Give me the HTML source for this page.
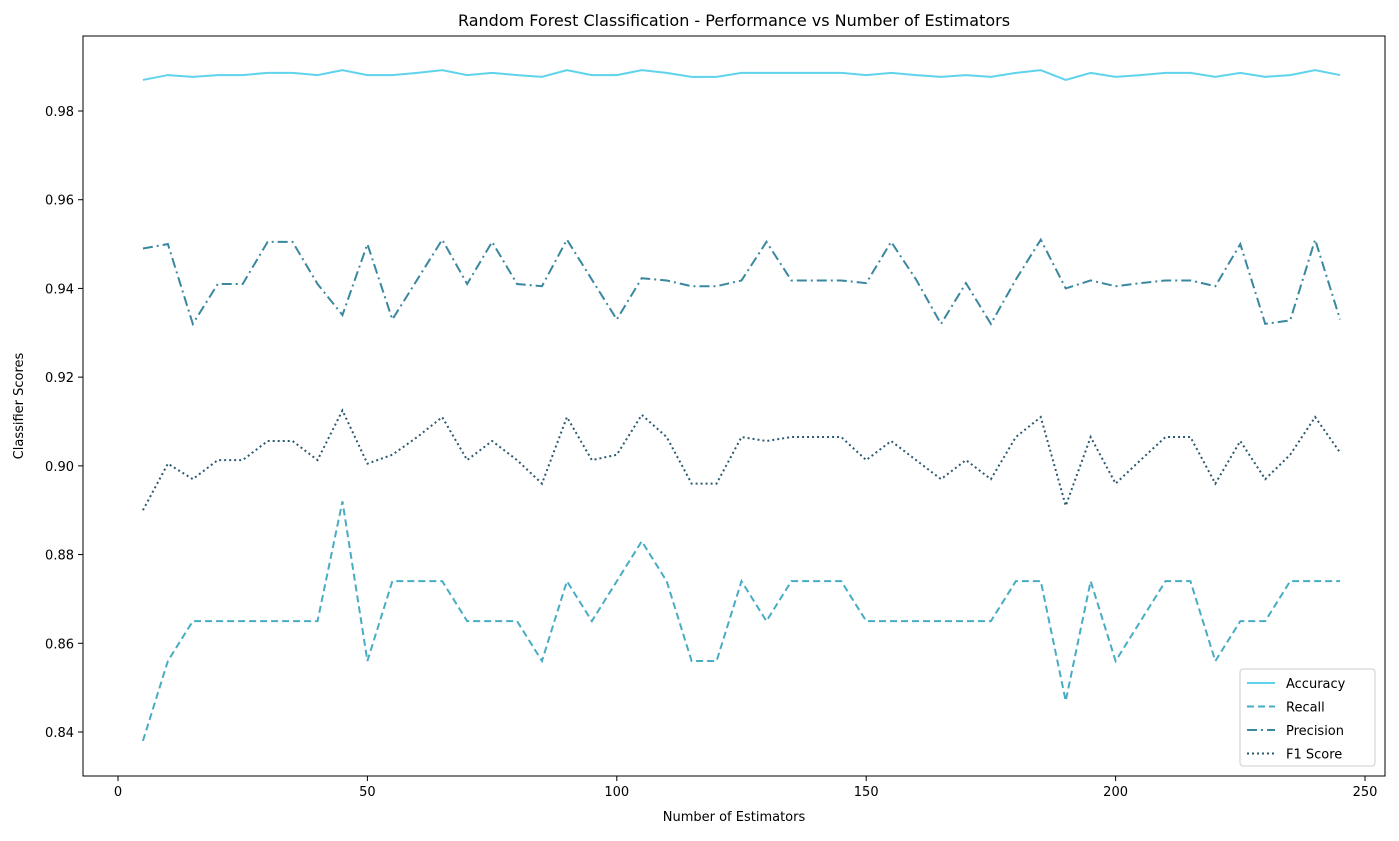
<!DOCTYPE html>
<html><head><meta charset="utf-8"><style>
body{margin:0;background:#fff;font-family:"Liberation Sans","DejaVu Sans",sans-serif}
svg text{font-family:"DejaVu Sans","Liberation Sans",sans-serif;fill:#000}
</style></head><body>
<svg id="chart" width="1399" height="836" xmlns="http://www.w3.org/2000/svg">
<rect width="1399" height="836" fill="#fff"/>
<text x="734" y="26" font-size="16" text-anchor="middle">Random Forest Classification - Performance vs Number of Estimators</text>
<g id="grid"></g>
<g id="series"></g>
<rect x="83" y="36" width="1302" height="740" fill="none" stroke="#000" stroke-width="1"/>
<text x="734" y="821" font-size="13" text-anchor="middle">Number of Estimators</text>
<text transform="translate(23,406) rotate(-90)" font-size="13" text-anchor="middle">Classifier Scores</text>
<g id="legend">
<rect x="1240" y="669" width="135" height="97" rx="3" fill="#fff" stroke="#ccc"/>
</g>
</svg>
<script>
const estimators=[5,10,15,20,25,30,35,40,45,50,55,60,65,70,75,80,85,90,95,100,105,110,115,120,125,130,135,140,145,150,155,160,165,170,175,180,185,190,195,200,205,210,215,220,225,230,235,240,245];
const accuracy=[0.9870,0.9881,0.9877,0.9881,0.9881,0.9886,0.9886,0.9881,0.9892,0.9881,0.9881,0.9886,0.9892,0.9881,0.9886,0.9881,0.9877,0.9892,0.9881,0.9881,0.9892,0.9886,0.9877,0.9877,0.9886,0.9886,0.9886,0.9886,0.9886,0.9881,0.9886,0.9881,0.9877,0.9881,0.9877,0.9886,0.9892,0.9870,0.9886,0.9877,0.9881,0.9886,0.9886,0.9877,0.9886,0.9877,0.9881,0.9892,0.9881];
const recall=[0.838,0.856,0.865,0.865,0.865,0.865,0.865,0.865,0.892,0.856,0.874,0.874,0.874,0.865,0.865,0.865,0.856,0.874,0.865,0.874,0.883,0.874,0.856,0.856,0.874,0.865,0.874,0.874,0.874,0.865,0.865,0.865,0.865,0.865,0.865,0.874,0.874,0.847,0.874,0.856,0.865,0.874,0.874,0.856,0.865,0.865,0.874,0.874,0.874];
const precision=[0.949,0.950,0.932,0.941,0.941,0.9505,0.9505,0.941,0.934,0.950,0.933,0.942,0.951,0.941,0.9505,0.941,0.9405,0.951,0.942,0.933,0.9423,0.9418,0.9405,0.9405,0.9418,0.9505,0.9418,0.9418,0.9418,0.9412,0.9505,0.942,0.932,0.9412,0.932,0.942,0.951,0.940,0.9418,0.9405,0.9412,0.9418,0.9418,0.9405,0.950,0.932,0.9328,0.951,0.933];
const f1=[0.890,0.9005,0.897,0.9013,0.9013,0.9056,0.9056,0.9013,0.9125,0.9005,0.9025,0.9065,0.911,0.9013,0.9056,0.9013,0.896,0.911,0.9013,0.9025,0.9115,0.9065,0.896,0.896,0.9065,0.9056,0.9065,0.9065,0.9065,0.9013,0.9056,0.9013,0.897,0.9013,0.897,0.9065,0.911,0.891,0.9065,0.896,0.9013,0.9065,0.9065,0.896,0.9056,0.897,0.9025,0.911,0.903];
const xTicks=[0,50,100,150,200,250];
const yTicks=[0.84,0.86,0.88,0.90,0.92,0.94,0.96,0.98];
const seriesNames=["Accuracy","Recall","Precision","F1 Score"];

const NS="http://www.w3.org/2000/svg";
const xS=v=>118+v*(1365-118)/250;
const yS=v=>732-(v-0.84)*(732-111)/0.14;
function mk(t,a,p){const e=document.createElementNS(NS,t);for(const k in a)e.setAttribute(k,a[k]);p.appendChild(e);return e;}
const grid=document.getElementById('grid');
xTicks.forEach(t=>{
  const l=mk('line',{x1:xS(t),x2:xS(t),y1:776,y2:781,stroke:'#000'},grid);
  
  
  const tx=mk('text',{x:xS(t),y:796,'font-size':13,'text-anchor':'middle'},grid);tx.textContent=t;
  
  
});
yTicks.forEach(t=>{
  const l=mk('line',{x1:78,x2:83,y1:yS(t),y2:yS(t),stroke:'#000'},grid);
  
  
  const tx=mk('text',{x:74,y:yS(t)+5,'font-size':13,'text-anchor':'end'},grid);tx.textContent=t.toFixed(2);
  
  
});
const styles=[{c:'#5fd3ec',d:''},{c:'#47acc4',d:'7,4'},{c:'#3a88a0',d:'10,4,2,4'},{c:'#2a5a70',d:'2,3'}];
const data=[accuracy,recall,precision,f1];
const sg=document.getElementById('series');
data.forEach((arr,i)=>{
  const p=mk('polyline',{points:arr.map((v,j)=>xS(estimators[j])+','+yS(v)).join(' '),fill:'none',stroke:styles[i].c,'stroke-width':2,'stroke-dasharray':styles[i].d},sg);
  
  
});
const lg=document.getElementById('legend');
seriesNames.forEach((n,i)=>{
  const y=683+i*23.5;
  const l=mk('line',{x1:1247,x2:1275,y1:y,y2:y,stroke:styles[i].c,'stroke-width':2,'stroke-dasharray':styles[i].d},lg);
  
  
  const t=mk('text',{x:1286,y:y+5,'font-size':13},lg);t.textContent=n;
  
  
});
</script>
</body></html>
